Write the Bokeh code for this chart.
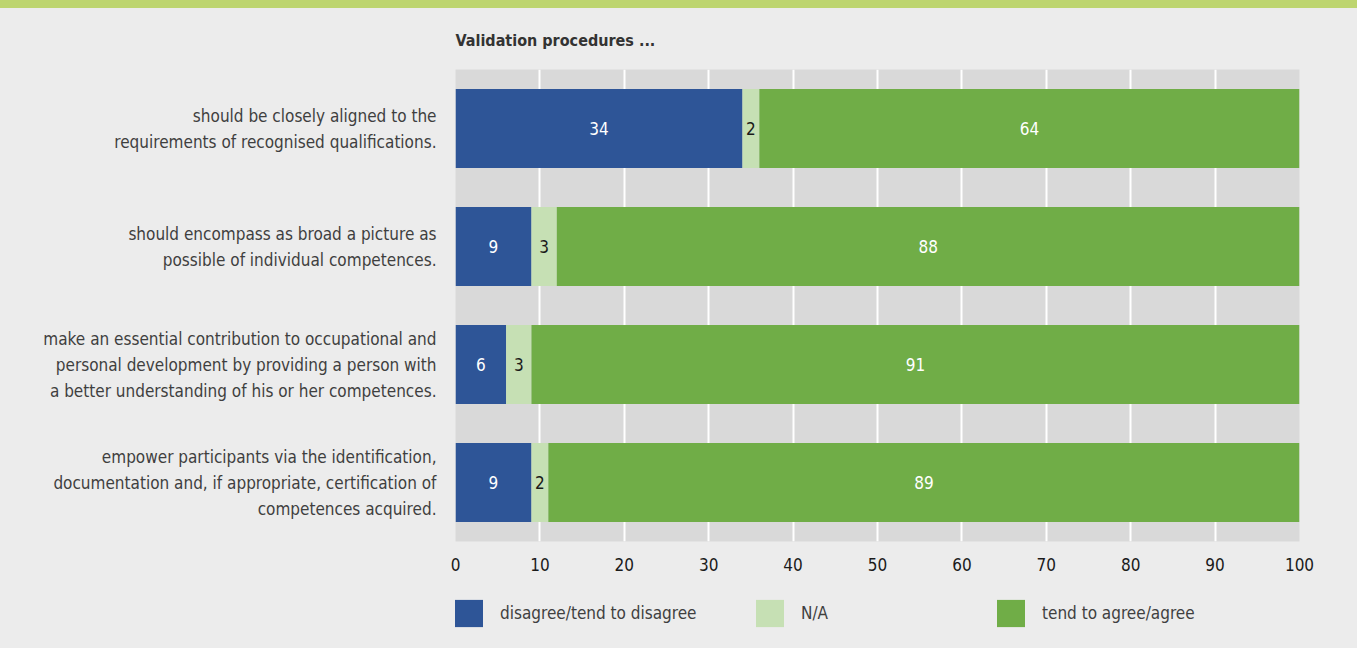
from bokeh.plotting import figure
from bokeh.models import (ColumnDataSource, Range1d, FactorRange, Legend, LegendItem,
                          FixedTicker, Div)
from bokeh.layouts import column
from bokeh.core.properties import value
from bokeh.embed import file_html
from bokeh.resources import INLINE

title = "Validation procedures ..."
categories = [
    "should be closely aligned to the\nrequirements of recognised qualifications.",
    "should encompass as broad a picture as\npossible of individual competences.",
    "make an essential contribution to occupational and\npersonal development by providing a person with\na better understanding of his or her competences.",
    "empower participants via the identification,\ndocumentation and, if appropriate, certification of\ncompetences acquired.",
]
series_names = ["disagree/tend to disagree", "N/A", "tend to agree/agree"]
disagree = [34, 9, 6, 9]
na = [2, 3, 3, 2]
agree = [64, 88, 91, 89]
x_ticks = [0, 10, 20, 30, 40, 50, 60, 70, 80, 90, 100]

FONT = "'Liberation Sans Narrow', 'DejaVu Sans Condensed', 'Roboto', sans-serif"
colors = ["#2e5597", "#c6e0b4", "#70ad47"]
label_colors = ["#ffffff", "#1a1a1a", "#ffffff"]
BG = "#ececec"

src = ColumnDataSource(dict(y=categories, d=disagree, na=na, a=agree))

p = figure(width=1357, height=577, x_range=Range1d(0, 100),
           y_range=FactorRange(factors=categories[::-1]), output_backend="svg",
           toolbar_location=None, min_border_left=455, min_border_right=58,
           min_border_top=60, min_border_bottom=44)
p.background_fill_color = "#d9d9d9"
p.border_fill_color = BG
p.outline_line_color = None
p.ygrid.visible = False
p.xgrid.grid_line_color = "#ffffff"
p.xgrid.grid_line_width = 2
p.xgrid.ticker = FixedTicker(ticks=x_ticks)

p.title.text = title
p.title.align = "left"
p.title.text_font = FONT
p.title.text_font_size = "16px"
p.title.text_font_style = "bold"
p.title.text_color = "#333333"
p.title.standoff = 40

p.xaxis.ticker = FixedTicker(ticks=x_ticks)
p.xaxis.axis_line_color = None
p.xaxis.major_tick_line_color = None
p.xaxis.minor_tick_line_color = None
p.xaxis.major_label_standoff = 10
p.xaxis.major_label_text_font = FONT
p.xaxis.major_label_text_font_size = "17px"
p.xaxis.major_label_text_color = "#1a1a1a"

p.yaxis.axis_line_color = None
p.yaxis.major_tick_line_color = None
p.yaxis.minor_tick_line_color = None
p.yaxis.major_label_standoff = 13
p.yaxis.major_label_text_font = FONT
p.yaxis.major_label_text_font_size = "17px"
p.yaxis.major_label_text_color = "#3f3f3f"
p.yaxis.major_label_text_align = "right"
p.yaxis.major_label_text_line_height = 1.3

p.hbar_stack(["d", "na", "a"], y="y", height=0.67, source=src,
             color=colors, line_color=None)

# value labels
left = [0] * len(categories)
for vals, lc in zip([disagree, na, agree], label_colors):
    centers = [l + v / 2 for l, v in zip(left, vals)]
    ls = ColumnDataSource(dict(x=centers, y=categories, t=[str(v) for v in vals]))
    p.text(x="x", y="y", text="t", source=ls, text_align="center",
           text_baseline="middle", text_color=lc, text_font=value(FONT),
           text_font_size="17px")
    left = [l + v for l, v in zip(left, vals)]

# legend figure (swatch renderers sit outside the visible range)
q = figure(width=1357, height=63, x_range=Range1d(0, 1), y_range=Range1d(0, 1),
           output_backend="svg", toolbar_location=None, min_border_left=455,
           min_border_right=58, min_border_top=0, min_border_bottom=0)
q.axis.visible = False
q.grid.visible = False
q.outline_line_color = None
q.background_fill_alpha = 0
q.border_fill_alpha = 0
for name, c, xpos in zip(series_names, colors, [-4, 297, 538]):
    r = q.quad(left=[5], right=[6], top=[6], bottom=[5], color=c, line_color=None)
    lg = Legend(items=[LegendItem(label=name, renderers=[r])],
                location=(xpos, 18), orientation="horizontal",
                glyph_width=35, glyph_height=34, label_standoff=14,
                padding=0, margin=0, spacing=0,
                border_line_color=None, background_fill_alpha=0,
                label_text_font=FONT, label_text_font_size="17px",
                label_text_color="#404040")
    q.add_layout(lg, "center")

stripe = Div(width=1357, height=8, margin=0,
             styles={"background-color": "#bdd56f"})
layout = column(stripe, p, q, spacing=0, styles={"background-color": BG})

open("out.html", "w").write(file_html(layout, INLINE))
